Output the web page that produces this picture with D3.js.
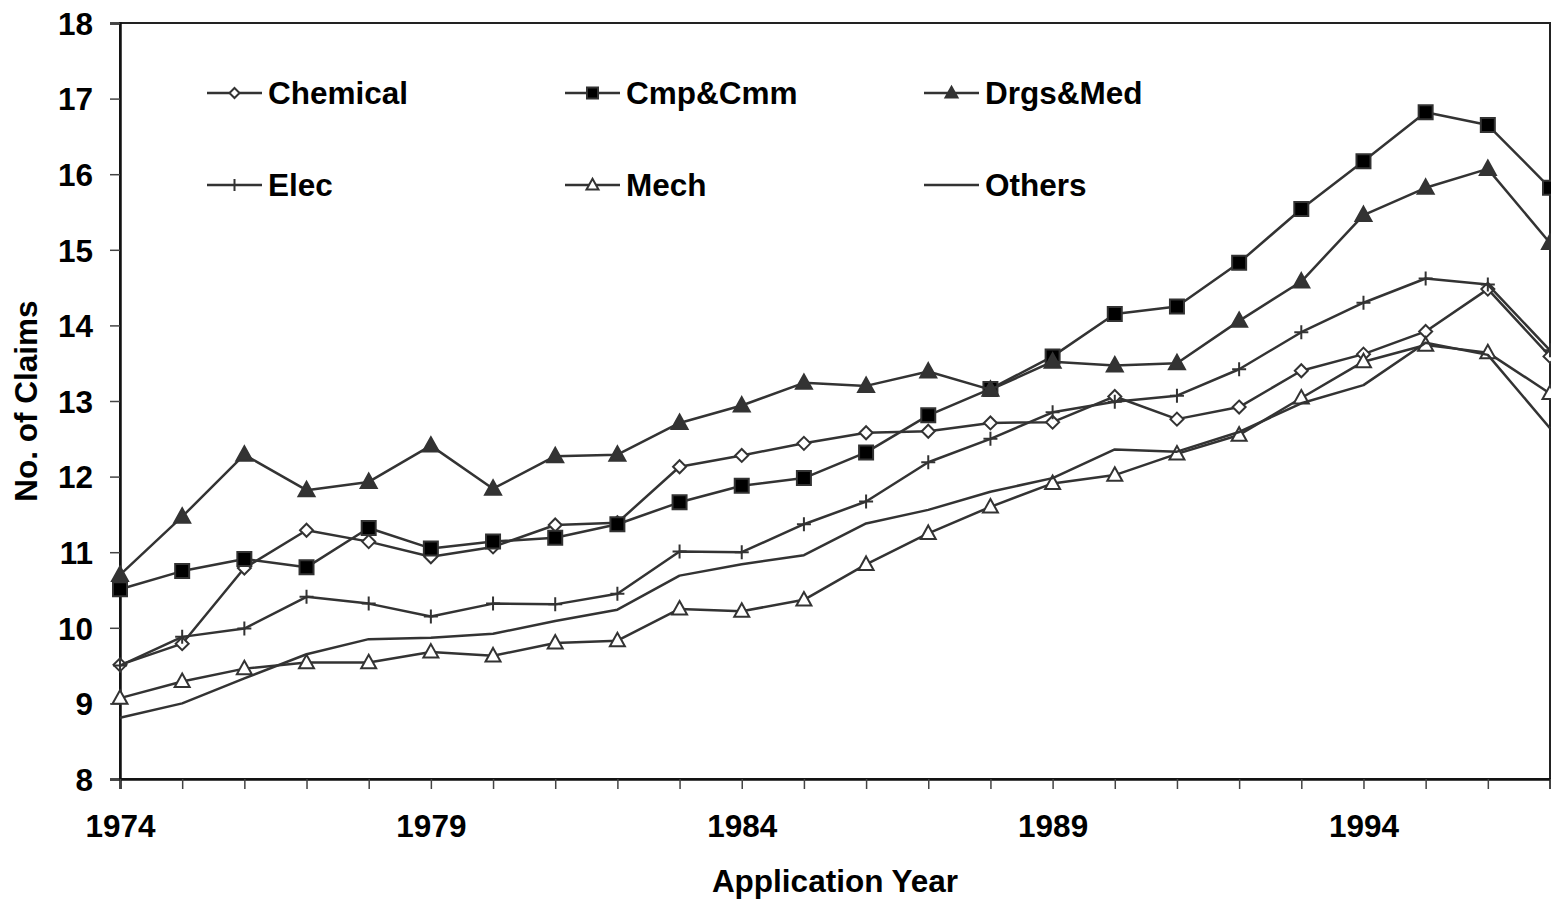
<!DOCTYPE html>
<html>
<head>
<meta charset="utf-8">
<script src="https://cdn.jsdelivr.net/npm/d3@7"></script>
<style>
  body { margin: 0; background: #fff; }
  svg text { font-family: "Liberation Sans", Arial, sans-serif; font-weight: bold; fill: #000; }
</style>
</head>
<body>
<svg id="chart" width="1551" height="905"></svg>
<script>
// years on the x axis
const years = d3.range(1974, 1998);
const yearLabels = [1974, 1979, 1984, 1989, 1994];
const yTicks = [8, 9, 10, 11, 12, 13, 14, 15, 16, 17, 18];

// series values
const chemical = [9.51, 9.79, 10.79, 11.29, 11.14, 10.94, 11.07, 11.36, 11.39, 12.13, 12.28, 12.44, 12.58, 12.60, 12.71, 12.72, 13.06, 12.76, 12.92, 13.40, 13.62, 13.92, 14.48, 13.59];
const cmpCmm   = [10.51, 10.75, 10.91, 10.80, 11.32, 11.05, 11.14, 11.19, 11.37, 11.66, 11.88, 11.98, 12.32, 12.81, 13.16, 13.59, 14.15, 14.25, 14.83, 15.54, 16.17, 16.82, 16.65, 15.82];
const drgsMed  = [10.70, 11.47, 12.29, 11.82, 11.93, 12.41, 11.84, 12.27, 12.29, 12.71, 12.94, 13.24, 13.20, 13.39, 13.15, 13.52, 13.47, 13.50, 14.06, 14.58, 15.46, 15.82, 16.07, 15.09];
const elec     = [9.50, 9.88, 9.99, 10.41, 10.32, 10.15, 10.32, 10.31, 10.45, 11.01, 11.00, 11.37, 11.67, 12.19, 12.50, 12.85, 12.99, 13.07, 13.42, 13.91, 14.30, 14.62, 14.54, 13.67];
const mech     = [9.07, 9.29, 9.46, 9.54, 9.54, 9.68, 9.63, 9.80, 9.83, 10.25, 10.22, 10.37, 10.84, 11.25, 11.60, 11.91, 12.02, 12.30, 12.55, 13.04, 13.52, 13.74, 13.64, 13.10];
const others   = [8.81, 9.00, 9.33, 9.65, 9.85, 9.87, 9.92, 10.09, 10.24, 10.69, 10.84, 10.96, 11.38, 11.56, 11.80, 11.98, 12.36, 12.33, 12.59, 12.97, 13.21, 13.77, 13.61, 12.64];

const seriesNames = ["Chemical", "Cmp&Cmm", "Drgs&Med", "Elec", "Mech", "Others"];
const seriesValues = [chemical, cmpCmm, drgsMed, elec, mech, others];
const seriesMarkers = ["diamond", "square", "triangleFilled", "plus", "triangleOpen", "none"];

const ink = "#333";
const fontSize = "31.5px";

var svg = d3.select("svg#chart"),
    width = +svg.attr("width"),
    height = +svg.attr("height");

const plot = { left: 120, right: 1550, top: 23, bottom: 779 };

var x = d3.scaleLinear().domain([1974, 1997]).range([plot.left, plot.right]);
var y = d3.scaleLinear().domain([8, 18]).range([plot.bottom, plot.top]);

// marker shape paths centred at 0,0
function markerPath(type, r) {
  if (type === "diamond") return `M0,${-r}L${r},0L0,${r}L${-r},0Z`;
  if (type === "square") return `M${-r},${-r}H${r}V${r}H${-r}Z`;
  if (type === "triangleFilled" || type === "triangleOpen")
    return `M0,${-r * 1.05}L${r},${r * 0.75}L${-r},${r * 0.75}Z`;
  if (type === "plus") return `M${-r},0H${r}M0,${-r}V${r}`;
  return "";
}
function markerStyle(sel, type) {
  sel.attr("stroke", ink).attr("stroke-width", 2);
  if (type === "square") sel.attr("fill", "#000");
  else if (type === "triangleFilled") sel.attr("fill", ink);
  else if (type === "plus") sel.attr("fill", "none");
  else sel.attr("fill", "#fff");
}
const markerR = { diamond: 6.5, square: 7, triangleFilled: 8, plus: 7, triangleOpen: 7.5 };
const legendR = { diamond: 5, square: 5.5, triangleFilled: 6, plus: 6, triangleOpen: 6 };

// plot border
svg.append("rect")
  .attr("x", plot.left).attr("y", plot.top)
  .attr("width", plot.right - plot.left).attr("height", plot.bottom - plot.top)
  .attr("fill", "none").attr("stroke", "#222").attr("stroke-width", 2);

// y axis
var yAxis = svg.append("g")
  .attr("transform", `translate(${plot.left},0)`)
  .call(d3.axisLeft(y).tickValues(yTicks).tickSize(10).tickPadding(17).tickFormat(d3.format("d")));
yAxis.select(".domain").attr("stroke", "#111").attr("stroke-width", 2.5);
yAxis.selectAll(".tick line").attr("stroke", "#444").attr("stroke-width", 1.5);
yAxis.selectAll(".tick text").style("font-size", fontSize).attr("dy", "0.36em");

// x axis
var xAxis = svg.append("g")
  .attr("transform", `translate(0,${plot.bottom})`)
  .call(d3.axisBottom(x).tickValues(years).tickSize(10).tickFormat(d => yearLabels.includes(d) ? d : ""));
xAxis.select(".domain").attr("stroke", "#111").attr("stroke-width", 2.5);
xAxis.selectAll(".tick line").attr("stroke", "#444").attr("stroke-width", 1.5);
xAxis.selectAll(".tick text").style("font-size", fontSize).attr("y", 0).attr("dy", 0)
  .attr("transform", "translate(0,58)");

// axis titles
svg.append("text")
  .attr("x", (plot.left + plot.right) / 2).attr("y", 892)
  .attr("text-anchor", "middle").style("font-size", fontSize)
  .text("Application Year");
svg.append("text")
  .attr("transform", `translate(37,${(plot.top + plot.bottom) / 2}) rotate(-90)`)
  .attr("text-anchor", "middle").style("font-size", fontSize)
  .text("No. of Claims");

// series
var line = d3.line().x((d, i) => x(years[i])).y(d => y(d));
var seriesG = svg.append("g");
seriesValues.forEach((vals, si) => {
  const type = seriesMarkers[si];
  const g = seriesG.append("g");
  g.append("path")
    .attr("d", line(vals))
    .attr("fill", "none").attr("stroke", ink).attr("stroke-width", 2.5)
    .attr("stroke-linejoin", "round");
  if (type !== "none") {
    g.selectAll("path.marker")
      .data(vals)
      .enter().append("path")
      .attr("class", "marker")
      .attr("transform", (d, i) => `translate(${x(years[i])},${y(d)})`)
      .attr("d", markerPath(type, markerR[type]))
      .call(markerStyle, type);
  }
});

// legend, 3 columns x 2 rows
const legendCols = [207, 565, 924];
const legendRows = [93, 185];
var legend = svg.append("g");
seriesNames.forEach((name, i) => {
  const type = seriesMarkers[i];
  const lx = legendCols[i % 3], ly = legendRows[Math.floor(i / 3)];
  const item = legend.append("g").attr("transform", `translate(${lx},${ly})`);
  item.append("line").attr("x1", 0).attr("x2", 55).attr("y1", 0).attr("y2", 0)
    .attr("stroke", ink).attr("stroke-width", 2.5);
  if (type !== "none") {
    item.append("path")
      .attr("transform", "translate(27.5,0)")
      .attr("d", markerPath(type, legendR[type]))
      .call(markerStyle, type);
  }
  item.append("text").attr("x", 61).attr("y", 0).attr("dy", "0.36em")
    .style("font-size", fontSize).text(name);
});
</script>
</body>
</html>
